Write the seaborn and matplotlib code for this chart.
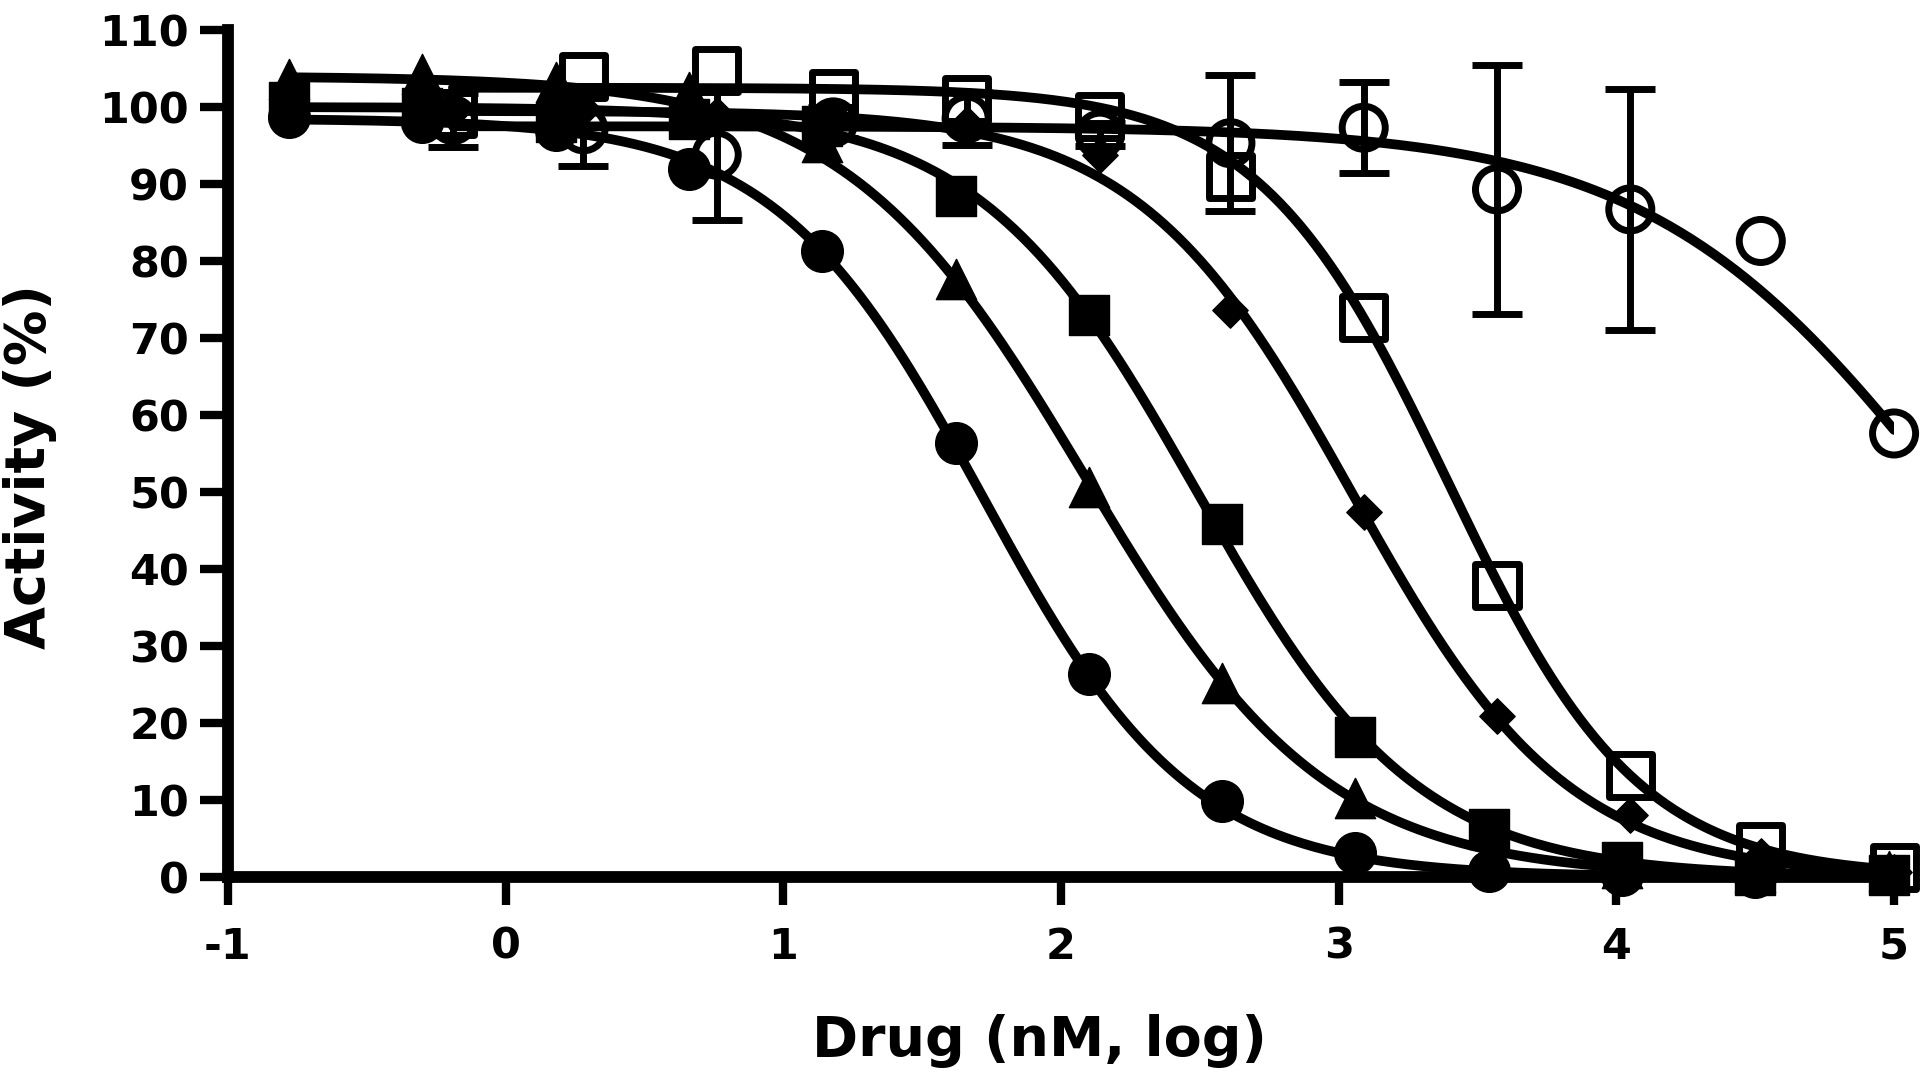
import numpy as np
import pandas as pd
import matplotlib
matplotlib.use("Agg")
import matplotlib.pyplot as plt
import seaborn as sns

# ---------------- data ----------------
# concentrations, log10 nM
x_filled = [-0.78, -0.30, 0.18, 0.66, 1.14, 1.62, 2.10, 2.58, 3.06, 3.54, 4.02, 4.50, 4.98]
x_open = [-0.19, 0.28, 0.76, 1.18, 1.66, 2.14, 2.61, 3.09, 3.57, 4.05, 4.52, 5.00]

# activity (%)
circle_filled_y = [98.7, 98.0, 97.0, 91.9, 81.3, 56.3, 26.3, 9.9, 3.1, 0.8, 0.2, 0.0]
triangle_y = [103.6, 104.3, 103.2, 102.0, 95.5, 77.6, 50.6, 25.2, 10.2, 3.0, 1.2, 0.6, 0.8]
square_filled_y = [100.6, 99.9, 98.0, 98.5, 97.5, 88.4, 73.0, 45.8, 18.2, 6.2, 2.0, 0.3, 0.2]
diamond_y = [99.5, 99.8, 99.0, 98.8, 97.8, 93.8, 73.6, 47.4, 20.9, 8.0, 2.7, 0.7]
square_open_y = [99.2, 103.9, 104.7, 101.8, 101.0, 98.8, 91.0, 72.6, 37.9, 13.2, 3.9, 1.2]
circle_open_y = [98.3, 97.1, 93.8, 98.0, 98.5, 96.4, 95.3, 97.3, 89.3, 86.7, 82.6, 57.6]
circle_open_err = [3.5, 4.8, 8.5, 2.0, 3.4, 1.5, 8.8, 5.9, 16.2, 15.6, 0.0, 0.0]

# four-parameter logistic fits (top, bottom, logIC50, Hill slope) for each series
series_names = ["circle_filled", "triangle", "square_filled", "diamond", "square_open", "circle_open"]
fit_top = [98.5, 104.0, 100.0, 99.5, 102.5, 97.5]
fit_bottom = [0.0, 0.0, 0.0, 0.0, 0.0, 0.0]
fit_logic50 = [1.72, 2.087, 2.49, 3.05, 3.394, 5.21]
fit_hill = [1.16, 1.00, 1.10, 1.12, 1.266, 0.80]

x_ticks = [-1, 0, 1, 2, 3, 4, 5]
y_ticks = list(range(0, 111, 10))
x_label = "Drug (nM, log)"
y_label = "Activity (%)"

# ---------------- figure ----------------
sns.set_theme(style="ticks")
plt.rcParams["font.family"] = ["DejaVu Sans"]
plt.rcParams["font.weight"] = "bold"
plt.rcParams["text.color"] = "black"
plt.rcParams["axes.labelcolor"] = "black"
plt.rcParams["xtick.color"] = "black"
plt.rcParams["ytick.color"] = "black"
plt.rcParams["xtick.labelcolor"] = "black"
plt.rcParams["ytick.labelcolor"] = "black"

fig = plt.figure(figsize=(19.2, 10.9), dpi=100)
ax = fig.add_axes([0.11875, 0.1954, 0.9865 - 0.11875, 0.9725 - 0.1954])

points = {
    "circle_filled": (x_filled[:len(circle_filled_y)], circle_filled_y),
    "triangle": (x_filled, triangle_y),
    "square_filled": (x_filled, square_filled_y),
    "diamond": (x_open, diamond_y),
    "square_open": (x_open, square_open_y),
    "circle_open": (x_open, circle_open_y),
}

# fitted curves
for i, name in enumerate(series_names):
    xs = points[name][0]
    xc = np.linspace(min(xs), max(xs), 400)
    yc = fit_bottom[i] + (fit_top[i] - fit_bottom[i]) / (1 + 10 ** ((xc - fit_logic50[i]) * fit_hill[i]))
    df = pd.DataFrame({"x": xc, "y": yc})
    sns.lineplot(data=df, x="x", y="y", ax=ax, color="black", lw=7,
                 estimator=None, sort=True, solid_capstyle="round", zorder=2)

# error bars on the open circles (only where an error was visible)
eb_x = [x for x, e in zip(x_open, circle_open_err) if e > 0]
eb_y = [y for y, e in zip(circle_open_y, circle_open_err) if e > 0]
eb_e = [e for e in circle_open_err if e > 0]
ax.errorbar(eb_x, eb_y, yerr=eb_e, fmt="none", ecolor="black",
            elinewidth=5, capsize=18, capthick=5, zorder=3, clip_on=False)

style = {
    "circle_filled": dict(marker="o", s=30 ** 2, facecolor="black", edgecolor="black", linewidth=1),
    "triangle": dict(marker="^", s=29 ** 2, facecolor="black", edgecolor="black", linewidth=1),
    "square_filled": dict(marker="s", s=29 ** 2, facecolor="black", edgecolor="black", linewidth=1),
    "diamond": dict(marker="D", s=18 ** 2, facecolor="black", edgecolor="black", linewidth=1),
    "square_open": dict(marker="s", s=31 ** 2, facecolor="none", edgecolor="black", linewidth=5),
    "circle_open": dict(marker="o", s=31 ** 2, facecolor="none", edgecolor="black", linewidth=5),
}
for name in series_names:
    xs, ys = points[name]
    sns.scatterplot(x=xs, y=ys, ax=ax, color="black", clip_on=False, zorder=4, legend=False,
                    **style[name])

ax.set_xlim(-1, 5)
ax.set_ylim(0, 110)
ax.set_xticks(x_ticks)
ax.set_yticks(y_ticks)
ax.set_xticklabels([str(t) for t in x_ticks], fontsize=31, fontweight="bold", color="black")
ax.set_yticklabels([str(t) for t in y_ticks], fontsize=31, fontweight="bold", color="black")

for side in ["top", "right"]:
    ax.spines[side].set_visible(False)
for side in ["left", "bottom"]:
    ax.spines[side].set_linewidth(8.5)
    ax.spines[side].set_color("black")
    ax.spines[side].set_capstyle("projecting")

ax.tick_params(axis="both", direction="out", length=20, width=6, color="black", labelcolor="black")
ax.tick_params(axis="x", pad=15)
ax.tick_params(axis="y", pad=8)

ax.set_xlabel(x_label, fontsize=40, fontweight="bold", color="black")
ax.set_ylabel(y_label, fontsize=40, fontweight="bold", color="black")
ax.xaxis.set_label_coords(0.487, -0.194)
ax.xaxis.label.set_va("center")
ax.yaxis.set_label_coords(-0.119, 0.484)
ax.yaxis.label.set_va("center")

ax.set_facecolor("white")
fig.patch.set_facecolor("white")
fig.savefig("out.png", dpi=100)
